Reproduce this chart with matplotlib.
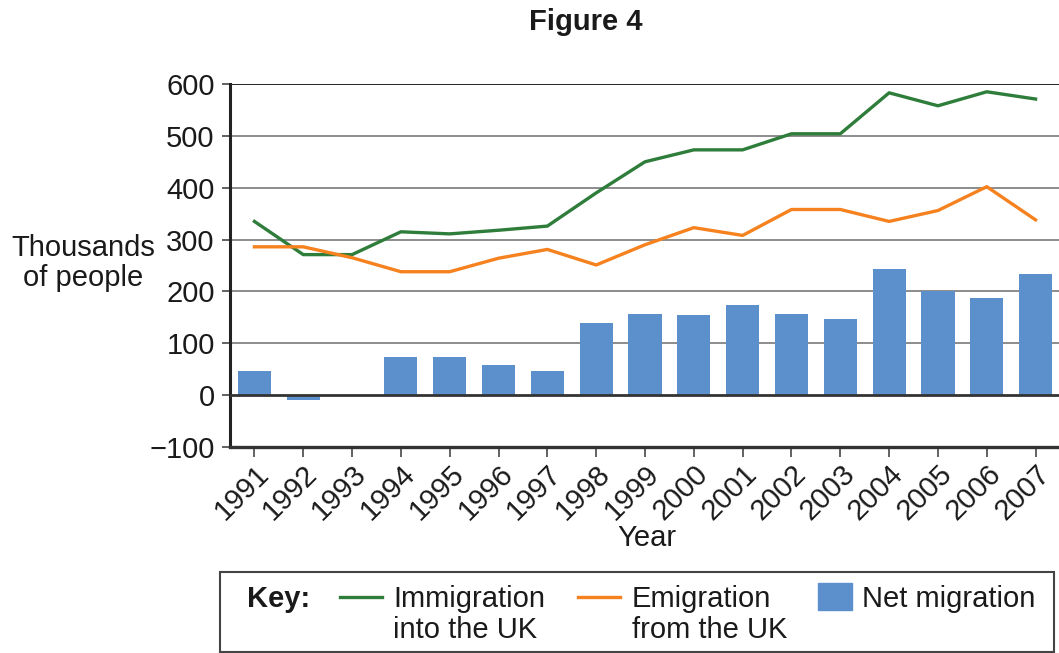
import numpy as np
import matplotlib
matplotlib.use("Agg")
import matplotlib.pyplot as plt
from matplotlib.lines import Line2D
from matplotlib.patches import Rectangle

plt.rcParams['font.family'] = ['Liberation Sans', 'DejaVu Sans']

# data (thousands of people)
years = [1991, 1992, 1993, 1994, 1995, 1996, 1997, 1998, 1999,
         2000, 2001, 2002, 2003, 2004, 2005, 2006, 2007]
immigration = [335, 271, 271, 315, 311, 318, 326, 390, 450,
               473, 473, 504, 504, 583, 558, 585, 571]
emigration = [286, 286, 265, 238, 238, 264, 281, 251, 290,
              323, 308, 358, 358, 335, 356, 402, 338]
net_migration = [46, -10, 0, 73, 73, 58, 46, 140, 156,
                 154, 173, 156, 146, 244, 200, 187, 233]
y_ticks = [-100, 0, 100, 200, 300, 400, 500, 600]

green = "#2e7d3b"
orange = "#f5821f"
blue = "#5b90cd"
FS = 21

W, H = 1059, 653
fig = plt.figure(figsize=(W / 100, H / 100), dpi=100)


def fx(px):
    return px / W


def fy(py):
    return 1 - py / H


ax = fig.add_axes([fx(230), fy(447), fx(830), (447 - 84) / H])

x = np.arange(len(years))
ax.bar(x, net_migration, width=0.68, color=blue, zorder=2)
ax.plot(x, immigration, color=green, linewidth=2.4, zorder=3)
ax.plot(x, emigration, color=orange, linewidth=2.4, zorder=3)

ax.set_xlim(-0.5, len(years) - 0.5)
ax.set_ylim(-100, 600)
ax.set_yticks(y_ticks)
ax.set_yticklabels([str(v).replace('-', '\u2212') for v in y_ticks])
ax.set_xticks(x)
ax.set_xticklabels([str(y) for y in years], rotation=45, ha='right',
                   rotation_mode='anchor')

# gridlines
for v in y_ticks[2:-1]:
    ax.axhline(v, color="#8c8c8c", linewidth=1.4, zorder=1)
ax.axhline(600, color="#222222", linewidth=1.4, zorder=1)
ax.axhline(0, color="#333333", linewidth=2.0, zorder=4)

for s in ['top', 'right']:
    ax.spines[s].set_visible(False)
ax.spines['left'].set_linewidth(2.2)
ax.spines['left'].set_color("#222222")
ax.spines['bottom'].set_linewidth(2.4)
ax.spines['bottom'].set_color("#333333")

ax.tick_params(axis='y', labelsize=FS, length=6, width=1.3, color="#555555",
               pad=5, labelcolor="#1a1a1a")
ax.tick_params(axis='x', labelsize=FS, length=7, width=1.3, color="#555555",
               pad=2, labelcolor="#1a1a1a")

fig.text(fx(586), fy(22), "Figure 4", fontsize=FS, fontweight='bold',
         ha='center', va='center', color="#1a1a1a")
fig.text(fx(83), fy(263), "Thousands\nof people", fontsize=FS, ha='center',
         va='center', multialignment='center', linespacing=1.05, color="#1a1a1a")
fig.text(fx(647), fy(538), "Year", fontsize=FS, ha='center', va='center',
         color="#1a1a1a")

# key box
fig.add_artist(Rectangle((fx(220), fy(652)), fx(834), (652 - 572) / H,
                         transform=fig.transFigure, fill=False,
                         edgecolor="#444444", linewidth=1.5))
fig.text(fx(247), fy(607), "Key:", fontsize=FS, fontweight='bold',
         va='baseline', color="#1a1a1a")
fig.add_artist(Line2D([fx(340), fx(382)], [fy(597), fy(597)],
                      transform=fig.transFigure, color=green, linewidth=2.4))
fig.text(fx(393), fy(607), "Immigration", fontsize=FS, va='baseline', color="#1a1a1a")
fig.text(fx(393), fy(638), "into the UK", fontsize=FS, va='baseline', color="#1a1a1a")
fig.add_artist(Line2D([fx(578), fx(620)], [fy(597), fy(597)],
                      transform=fig.transFigure, color=orange, linewidth=2.4))
fig.text(fx(632), fy(607), "Emigration", fontsize=FS, va='baseline', color="#1a1a1a")
fig.text(fx(632), fy(638), "from the UK", fontsize=FS, va='baseline', color="#1a1a1a")
fig.add_artist(Rectangle((fx(818), fy(610)), fx(34), 27 / H,
                         transform=fig.transFigure, color=blue))
fig.text(fx(862), fy(607), "Net migration", fontsize=FS, va='baseline', color="#1a1a1a")

fig.savefig("out.png", dpi=100)
